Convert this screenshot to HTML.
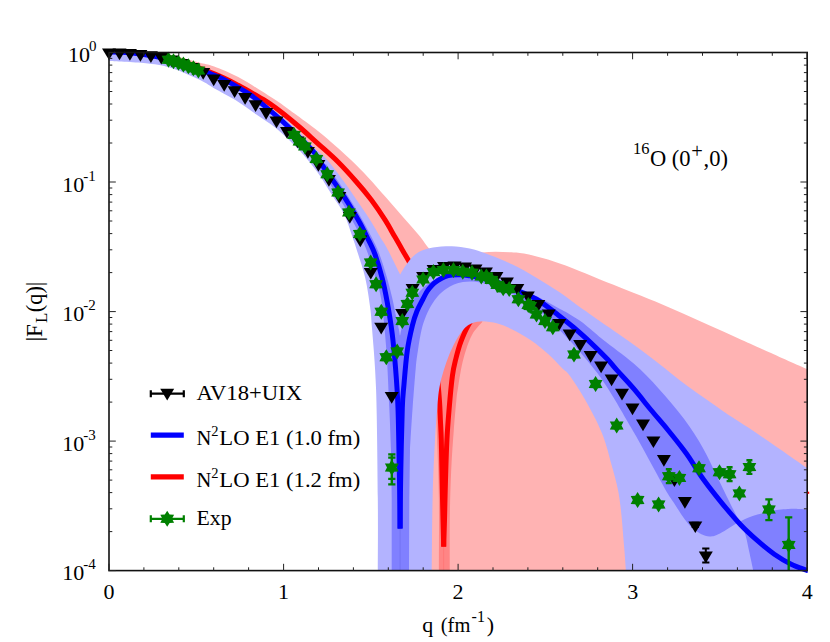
<!DOCTYPE html>
<html><head><meta charset="utf-8"><title>chart</title>
<style>html,body{margin:0;padding:0;background:#fff}svg{display:block}</style></head>
<body>
<svg width="830" height="642" viewBox="0 0 830 642">
<defs><clipPath id="ax"><rect x="109.0" y="52.5" width="698.2" height="518.1"/></clipPath>
<clipPath id="ax2"><rect x="106.0" y="49.5" width="701.6" height="523.5"/></clipPath></defs>
<rect width="830" height="642" fill="#fff"/>
<g clip-path="url(#ax)">
<path d="M109.0 50.0C114.8 50.3 134.6 51.2 143.9 52.0C153.2 52.8 159.2 53.7 165.0 54.5C170.8 55.3 174.6 56.1 178.8 57.0C183.0 57.9 186.5 59.0 190.0 60.0C193.5 61.0 196.0 61.6 200.0 62.7C204.0 63.8 207.7 64.1 214.1 66.5C220.5 68.9 230.2 72.9 238.2 77.1C246.2 81.3 254.8 86.9 262.3 91.6C269.8 96.3 278.1 101.8 283.4 105.4C288.7 109.0 288.3 109.0 294.1 113.3C299.9 117.6 311.4 125.9 318.2 131.3C325.0 136.7 329.5 140.7 335.0 145.5C340.5 150.3 345.8 155.0 351.3 160.3C356.8 165.6 362.4 171.2 368.2 177.5C374.0 183.8 380.3 191.0 386.3 197.8C392.3 204.6 398.7 212.1 404.3 218.5C409.9 224.9 415.9 231.5 420.0 236.5C424.1 241.5 425.9 245.4 429.2 248.7C432.5 251.9 435.7 254.8 440.0 256.0C444.3 257.2 450.0 256.4 455.0 256.0C460.0 255.6 465.5 254.1 470.0 253.5C474.5 252.9 477.9 252.7 482.2 252.4C486.5 252.1 491.1 251.7 495.7 251.7C500.3 251.7 505.3 252.0 510.0 252.3C514.7 252.6 517.7 252.4 524.0 253.6C530.3 254.8 540.0 257.2 548.0 259.6C556.0 262.0 563.3 264.8 572.0 268.1C580.7 271.4 590.8 275.8 600.0 279.5C609.2 283.2 617.8 286.5 627.0 290.2C636.2 293.9 646.1 297.7 655.4 301.6C664.7 305.5 673.8 309.5 683.0 313.6C692.2 317.7 701.6 321.9 710.8 326.0C720.0 330.1 728.8 334.1 738.0 338.3C747.2 342.5 754.8 345.9 766.3 351.0C777.8 356.1 800.4 366.2 807.2 369.2L807.2 570.4L400 570.4L400.1 528.6C400.0 518.8 399.7 490.1 399.3 470.0C398.9 449.9 398.6 425.1 398.0 408.0C397.4 390.9 396.5 379.9 395.5 367.5C394.5 355.1 393.6 344.8 392.2 333.7C390.8 322.6 388.7 310.2 387.0 301.0C385.3 291.8 384.2 286.0 382.2 278.2C380.2 270.4 377.4 261.0 374.9 254.1C372.4 247.2 369.5 242.2 367.0 237.0C364.5 231.8 362.4 227.5 359.8 222.7C357.2 217.9 354.9 214.0 351.3 208.2C347.7 202.4 342.7 194.5 338.1 187.7C333.5 180.9 327.5 173.0 323.6 167.2C319.7 161.4 318.5 157.9 314.6 153.0C310.7 148.1 305.4 143.4 300.0 138.0C294.6 132.6 288.3 126.5 282.0 120.8C275.7 115.1 267.9 108.6 262.3 104.1C256.7 99.6 254.6 97.6 248.6 93.7C242.6 89.8 231.9 83.7 226.1 80.6C220.3 77.5 218.7 77.1 213.7 75.0C208.7 72.9 202.1 70.0 196.2 67.8C190.4 65.6 184.6 63.8 178.8 62.1C173.0 60.4 167.2 58.9 161.3 57.6C155.5 56.3 149.7 55.3 143.9 54.5C138.1 53.7 132.3 53.0 126.5 52.6C120.6 52.2 111.9 52.1 109.0 52.0Z" fill="#ffb3b3"/>
<path d="M482.6 321.6C480.9 323.7 475.3 329.3 472.5 334.0C469.7 338.7 467.8 344.5 466.0 350.0C464.2 355.5 462.8 360.7 461.5 367.0C460.2 373.3 458.9 382.5 458.0 388.0C457.1 393.5 457.1 393.0 456.4 400.0C455.7 407.0 454.7 418.3 453.8 430.0C452.9 441.7 451.9 455.0 451.2 470.0C450.5 485.0 450.0 503.3 449.8 520.0C449.6 536.7 449.8 562.0 449.8 570.4L438.9 570.4C438.9 558.7 439.1 520.1 438.9 500.0C438.7 479.9 438.0 465.0 437.5 450.0C437.0 435.0 436.4 418.3 436.0 410.0C435.6 401.7 435.0 408.3 435.0 400.0C435.0 391.7 434.3 371.7 436.0 360.0C437.7 348.3 441.0 337.5 445.0 330.0C449.0 322.5 457.5 317.5 460.0 315.0Z" fill="#ff8585"/>
<path d="M443.6 546 L443.6 570.4" stroke="#f77" stroke-width="0.9"/>
</g>
<g clip-path="url(#ax2)">
<path d="M109.0 52.0C114.8 52.4 132.3 52.8 143.9 54.4C155.5 56.0 167.2 58.3 178.8 61.5C190.4 64.7 203.8 69.6 213.7 73.6C223.6 77.5 230.1 81.0 238.2 85.2C246.3 89.4 257.0 95.9 262.3 99.0C267.6 102.1 266.5 101.3 270.0 103.8C273.5 106.2 278.4 109.8 283.4 113.7C288.4 117.7 294.2 122.5 300.0 127.5C305.8 132.5 311.8 138.1 318.2 143.8C324.6 149.6 331.8 155.7 338.1 162.0C344.4 168.3 350.6 175.2 356.1 181.5C361.7 187.8 366.5 193.6 371.4 200.0C376.2 206.4 381.3 214.0 385.2 220.2C389.1 226.4 391.9 231.8 395.0 237.1C398.1 242.4 400.9 247.4 403.5 252.0C406.1 256.6 408.1 258.7 410.5 264.5C412.9 270.3 415.2 278.1 418.0 287.0C420.8 295.9 424.4 307.5 427.0 318.0C429.6 328.5 431.8 339.8 433.5 350.0C435.2 360.2 436.5 370.7 437.5 379.0C438.5 387.3 438.9 393.2 439.4 400.0C439.9 406.8 440.1 413.3 440.4 420.0C440.7 426.7 441.0 430.0 441.3 440.0C441.6 450.0 441.8 466.7 442.1 480.0C442.4 493.3 442.7 508.9 443.0 520.0C443.3 531.1 443.6 542.2 443.7 546.6" fill="none" stroke="#f00" stroke-width="5" stroke-linejoin="round"/>
<path d="M443.7 546.6C443.8 542.2 444.2 531.1 444.5 520.0C444.8 508.9 445.1 493.3 445.5 480.0C445.9 466.7 446.3 452.0 446.9 440.0C447.5 428.0 448.3 418.7 449.2 408.0C450.1 397.3 451.3 384.1 452.4 375.9C453.5 367.7 454.4 364.6 455.8 359.0C457.2 353.4 458.6 347.8 460.7 342.2C462.8 336.6 465.4 330.3 468.3 325.3C471.2 320.3 474.1 315.7 478.0 312.0C481.9 308.3 489.7 304.5 492.0 303.0" fill="none" stroke="#f00" stroke-width="5" stroke-linejoin="round"/>
</g>
<g clip-path="url(#ax)">
<path d="M109.0 50.0C114.8 50.6 132.3 51.7 143.9 53.5C155.5 55.3 167.2 57.6 178.8 61.0C190.4 64.4 202.1 68.8 213.7 74.0C225.3 79.2 240.5 87.8 248.6 92.5C256.7 97.2 256.6 98.3 262.3 102.5C268.0 106.7 276.7 112.4 283.0 117.5C289.3 122.6 294.8 128.0 300.0 133.0C305.2 138.0 309.5 143.0 314.0 147.5C318.5 152.0 322.2 154.3 327.2 160.0C332.2 165.7 338.7 174.3 344.1 181.7C349.5 189.1 355.2 197.8 359.8 204.6C364.4 211.4 368.4 217.3 371.8 222.7C375.2 228.1 377.5 232.5 380.2 237.1C382.9 241.7 384.9 244.2 388.2 250.5C391.5 256.8 398.2 270.6 400.2 274.6L400.2 274.6C400.8 273.5 402.8 269.9 404.0 268.0C405.2 266.1 406.3 264.6 407.5 263.0C408.7 261.4 409.6 260.0 411.0 258.5C412.4 257.0 414.1 255.3 415.9 254.0C417.7 252.7 419.8 251.4 422.0 250.5C424.2 249.6 426.8 248.9 429.3 248.3C431.8 247.7 434.2 247.3 437.0 247.0C439.8 246.7 442.8 246.3 446.0 246.2C449.2 246.1 452.8 246.3 456.0 246.6C459.2 246.9 462.3 247.3 465.3 247.8C468.3 248.3 471.2 248.8 474.0 249.6C476.8 250.3 479.4 251.3 482.2 252.3C485.0 253.3 488.0 254.4 491.0 255.5C494.0 256.6 496.5 257.5 500.0 259.0C503.5 260.5 508.0 262.4 512.0 264.3C516.0 266.2 520.1 268.3 524.1 270.5C528.1 272.7 532.0 275.1 536.0 277.5C540.0 279.9 544.2 282.4 548.2 284.9C552.2 287.4 556.0 289.8 560.0 292.5C564.0 295.2 568.0 298.3 572.3 301.4C576.6 304.5 581.4 308.0 586.0 311.3C590.6 314.6 594.3 317.4 600.0 321.3C605.7 325.2 613.3 330.3 620.0 335.0C626.7 339.7 633.3 344.4 640.0 349.3C646.7 354.2 653.3 359.3 660.0 364.5C666.7 369.7 674.2 376.0 680.0 380.5C685.8 385.0 689.9 387.8 695.0 391.5C700.1 395.2 705.8 399.0 710.8 402.5C715.8 406.0 720.1 409.2 725.0 412.5C729.9 415.8 734.6 418.8 740.0 422.3C745.4 425.8 750.8 429.2 757.5 433.7C764.2 438.2 771.7 443.5 780.0 449.3C788.3 455.1 802.7 465.1 807.2 468.3L807.2 570.4L625.9 570.4C625.6 566.6 625.0 557.0 624.2 547.5C623.4 538.0 622.3 523.3 621.3 513.7C620.3 504.1 619.5 497.7 618.0 490.0C616.5 482.3 614.9 476.9 612.3 467.5C609.7 458.1 606.7 444.9 602.2 433.7C597.7 422.4 590.7 409.6 585.3 400.0C579.9 390.4 573.9 381.2 570.0 375.9C566.1 370.6 565.6 371.6 562.0 368.0C558.4 364.4 553.2 358.6 548.1 354.0C543.0 349.4 536.8 344.4 531.2 340.5C525.6 336.6 519.9 333.2 514.3 330.4C508.7 327.6 503.1 325.1 497.5 323.6C491.9 322.1 485.5 321.1 480.6 321.4C475.7 321.7 471.8 322.7 468.0 325.3C464.2 327.9 461.1 332.2 458.0 337.0C454.9 341.8 451.9 348.4 449.5 354.0C447.1 359.6 445.3 365.2 443.6 370.8C441.9 376.4 440.4 381.5 439.4 387.7C438.3 393.9 438.0 399.3 437.3 408.0C436.6 416.7 435.8 425.0 435.0 440.0C434.2 455.0 433.1 476.3 432.6 498.0C432.1 519.7 431.9 558.3 431.8 570.4L377.8 570.4C377.8 558.3 378.1 528.1 377.8 498.0C377.5 467.9 377.1 418.3 376.1 390.0C375.1 361.7 373.0 341.8 372.0 328.0C371.0 314.2 371.2 315.3 370.1 307.0C369.0 298.7 367.3 287.0 365.3 278.2C363.3 269.4 360.2 261.0 358.1 254.1C356.0 247.2 354.8 243.7 352.5 237.0C350.2 230.3 347.5 221.2 344.1 214.2C340.7 207.2 336.4 201.9 332.0 195.0C327.6 188.1 323.3 180.3 318.0 173.0C312.7 165.7 306.8 158.3 300.0 151.0C293.2 143.7 284.3 135.1 277.0 129.0C269.7 122.9 263.0 119.2 256.0 114.3C249.0 109.4 242.0 104.1 235.0 99.8C228.0 95.5 219.7 91.4 214.0 88.2C208.3 85.0 208.0 83.8 201.0 80.5C194.0 77.2 180.8 71.1 172.0 68.3C163.2 65.5 158.5 64.7 148.0 63.5C137.5 62.3 115.5 61.4 109.0 61.0Z" fill="#b3b3ff"/>
<path d="M326.0 164.0C328.3 167.3 335.4 177.2 340.0 184.0C344.6 190.8 349.7 198.8 353.5 205.0C357.3 211.2 360.1 215.8 363.0 221.0C365.9 226.2 368.3 230.7 371.0 236.0C373.7 241.3 376.4 246.3 379.0 253.0C381.6 259.7 384.3 268.7 386.5 276.0C388.7 283.3 390.4 290.3 392.0 297.0C393.6 303.7 394.8 310.5 396.0 316.0C397.2 321.5 398.3 326.8 399.0 330.0C399.7 333.2 399.6 335.4 400.0 335.4C400.4 335.4 400.4 332.9 401.2 330.0C401.9 327.1 403.1 322.0 404.5 318.0C405.9 314.0 407.6 309.7 409.5 306.0C411.4 302.3 413.6 299.2 416.0 296.0C418.4 292.8 421.0 289.7 424.0 287.0C427.0 284.3 430.6 281.8 434.0 280.0C437.4 278.2 440.1 276.9 444.6 276.0C449.1 275.1 455.1 274.6 461.0 274.8C466.9 275.1 473.5 276.1 480.0 277.5C486.5 278.9 493.3 281.0 500.0 283.0C506.7 285.0 515.0 287.8 520.0 289.5C525.0 291.2 526.7 292.1 530.0 293.5C533.3 294.9 537.0 296.5 540.0 298.0C543.0 299.5 545.0 300.7 548.3 302.5C551.6 304.3 556.8 307.2 560.0 309.0C563.2 310.8 564.3 311.0 567.6 313.0C570.9 315.0 576.1 318.1 580.0 320.8C583.9 323.6 587.1 326.3 591.0 329.5C594.9 332.7 596.3 334.3 603.4 340.0C610.5 345.7 624.4 355.5 633.7 363.6C643.0 371.8 650.6 379.6 659.0 388.9C667.4 398.2 677.0 409.4 684.3 419.3C691.6 429.2 697.2 437.9 702.9 448.0C708.6 458.1 713.5 469.5 718.7 480.0C723.9 490.5 729.8 502.6 734.0 511.0C738.2 519.4 741.5 524.0 744.0 530.6C746.5 537.2 747.5 544.2 749.0 550.8C750.5 557.4 752.5 567.1 753.2 570.4L753.2 570.4L807.2 570.4L807.2 509.5L807.2 509.5C805.8 509.4 801.7 509.0 799.0 508.9C796.3 508.8 795.3 508.6 791.2 508.8C787.1 509.1 779.9 509.4 774.3 510.4C768.7 511.4 763.1 512.8 757.5 514.6C751.9 516.4 746.9 518.1 740.6 521.3C734.4 524.4 725.1 531.0 720.0 533.5C714.9 536.0 713.0 536.4 709.9 536.5C706.8 536.6 703.9 535.3 701.4 534.2C698.9 533.1 697.2 531.8 695.0 530.0C692.8 528.2 690.3 526.2 688.0 523.5C685.7 520.8 683.3 517.4 681.0 514.0C678.7 510.6 676.2 506.3 674.0 503.0C671.8 499.7 670.1 497.4 668.0 494.0C665.9 490.6 664.0 487.0 661.5 482.5C659.0 478.0 655.9 472.2 653.0 467.0C650.1 461.8 647.1 456.2 644.3 451.0C641.5 445.8 638.8 440.9 636.0 436.0C633.2 431.1 631.1 427.8 627.5 421.5C623.9 415.2 617.9 404.8 614.1 398.5C610.4 392.2 607.9 388.4 605.0 384.0C602.1 379.6 600.7 377.3 596.7 372.2C592.8 367.1 585.9 358.9 581.3 353.5C576.7 348.1 573.6 344.7 569.2 340.0C564.8 335.3 559.9 330.2 555.0 325.5C550.1 320.8 545.8 316.1 540.0 311.5C534.2 306.9 526.7 301.8 520.0 298.0C513.3 294.2 505.8 290.9 500.0 288.5C494.2 286.1 489.5 284.7 485.0 283.5C480.5 282.3 476.7 281.8 473.0 281.5C469.3 281.2 466.2 281.5 463.0 282.0C459.8 282.5 456.8 283.3 454.0 284.5C451.2 285.7 448.7 287.1 446.0 289.0C443.3 290.9 440.4 293.3 438.0 296.0C435.6 298.7 433.5 301.7 431.5 305.0C429.5 308.3 427.7 311.8 426.0 316.0C424.3 320.2 422.8 324.3 421.5 330.0C420.2 335.7 418.9 343.8 418.0 350.0C417.1 356.2 416.7 357.8 415.8 367.5C414.9 377.2 413.6 394.2 412.6 408.0C411.6 421.8 410.4 443.0 410.0 450.0L409.3 498.0L409.0 570.4L391.7 570.4L391.7 498.0L391.0 450.0C390.7 443.0 390.1 424.6 389.3 408.0C388.5 391.4 387.7 368.6 386.4 350.6C385.1 332.6 383.2 312.4 381.3 300.0C379.4 287.6 377.3 283.8 375.0 276.0C372.7 268.2 370.1 259.7 367.7 253.0C365.3 246.3 362.9 241.3 360.4 236.0C357.9 230.7 355.4 226.2 352.6 221.0C349.8 215.8 347.3 211.2 343.5 205.0C339.7 198.8 334.2 190.5 330.0 184.0C325.8 177.5 320.0 169.0 318.0 166.0Z" fill="#8080ff"/>
<path d="M400.1 528 L400.1 570.4" stroke="#7272f2" stroke-width="0.9"/>
</g>
<g clip-path="url(#ax2)">
<path d="M109.0 52.0C111.9 52.1 120.6 52.2 126.5 52.6C132.3 53.0 138.1 53.7 143.9 54.5C149.7 55.3 155.5 56.3 161.3 57.6C167.2 58.9 173.0 60.4 178.8 62.1C184.6 63.8 190.4 65.6 196.2 67.8C202.1 70.0 208.7 72.9 213.7 75.0C218.7 77.1 220.3 77.5 226.1 80.6C231.9 83.7 242.6 89.8 248.6 93.7C254.6 97.6 256.7 99.6 262.3 104.1C267.9 108.6 275.7 115.1 282.0 120.8C288.3 126.5 294.6 132.6 300.0 138.0C305.4 143.4 310.7 148.1 314.6 153.0C318.5 157.9 319.7 161.4 323.6 167.2C327.5 173.0 333.5 180.9 338.1 187.7C342.7 194.5 347.7 202.4 351.3 208.2C354.9 214.0 357.2 217.9 359.8 222.7C362.4 227.5 364.5 231.8 367.0 237.0C369.5 242.2 372.4 247.2 374.9 254.1C377.4 261.0 380.2 270.4 382.2 278.2C384.2 286.0 385.3 291.8 387.0 301.0C388.7 310.2 390.8 322.6 392.2 333.7C393.6 344.8 394.5 355.1 395.5 367.5C396.5 379.9 397.4 390.9 398.0 408.0C398.6 425.1 398.9 449.9 399.3 470.0C399.7 490.1 400.0 518.8 400.1 528.6" fill="none" stroke="#00f" stroke-width="5" stroke-linejoin="round"/>
<path d="M400.1 528.6C400.2 518.8 400.4 490.1 400.8 470.0C401.2 449.9 401.8 422.3 402.3 408.0C402.8 393.7 403.2 393.9 404.0 384.3C404.8 374.7 405.9 360.4 407.3 350.6C408.7 340.8 410.8 331.9 412.4 325.3C414.0 318.7 415.3 315.2 417.0 311.0C418.7 306.8 420.8 303.2 422.5 300.0C424.2 296.8 425.4 294.0 427.0 291.5C428.6 289.0 430.2 287.1 432.0 285.2C433.8 283.3 435.8 281.7 438.0 280.3C440.2 278.9 442.7 277.5 445.0 276.6C447.3 275.7 449.3 275.3 452.0 275.0C454.7 274.7 458.0 274.7 461.0 274.8C464.0 274.9 466.8 275.4 470.0 275.8C473.2 276.2 476.7 276.8 480.0 277.5C483.3 278.2 486.7 279.1 490.0 280.0C493.3 280.9 496.7 281.8 500.0 283.0C503.3 284.2 506.7 285.6 510.0 287.0C513.3 288.4 516.7 290.0 520.0 291.5C523.3 293.0 526.7 294.4 530.0 296.0C533.3 297.6 535.5 298.3 540.0 301.3C544.5 304.3 551.3 309.6 556.9 314.0C562.5 318.4 568.1 322.7 573.7 327.5C579.3 332.3 585.0 337.3 590.6 342.6C596.2 347.9 603.1 354.7 607.5 359.3C611.9 363.9 612.5 365.3 616.9 370.2C621.3 375.1 628.1 382.1 633.7 388.7C639.3 395.2 645.0 402.7 650.6 409.5C656.2 416.3 662.2 423.0 667.5 429.5C672.8 436.0 678.9 443.6 682.6 448.5C686.4 453.4 686.5 453.6 690.0 458.8C693.5 464.0 697.9 471.8 703.5 479.5C709.1 487.2 717.5 497.8 723.7 505.3C729.9 512.8 735.0 518.8 740.6 524.7C746.2 530.6 751.9 535.8 757.5 540.7C763.1 545.6 768.7 550.3 774.3 554.2C779.9 558.1 785.7 561.5 791.2 564.2C796.7 566.9 803.7 569.0 807.2 570.4C810.7 571.8 811.2 572.0 812.0 572.3" fill="none" stroke="#00f" stroke-width="5" stroke-linejoin="round"/>
</g>
<g fill="#000">
<path d="M102.0 48.4 L116.0 48.4 L109.0 60.1 Z"/>
<path d="M112.5 48.5 L126.5 48.5 L119.5 60.2 Z"/>
<path d="M122.9 49.1 L136.9 49.1 L129.9 60.8 Z"/>
<path d="M133.4 50.1 L147.4 50.1 L140.4 61.8 Z"/>
<path d="M143.9 51.3 L157.9 51.3 L150.9 63.0 Z"/>
<path d="M154.3 52.9 L168.3 52.9 L161.3 64.6 Z"/>
<path d="M164.8 55.6 L178.8 55.6 L171.8 67.3 Z"/>
<path d="M175.3 58.9 L189.3 58.9 L182.3 70.6 Z"/>
<path d="M185.8 63.1 L199.8 63.1 L192.8 74.8 Z"/>
<path d="M196.2 68.1 L210.2 68.1 L203.2 79.8 Z"/>
<path d="M206.7 74.6 L220.7 74.6 L213.7 86.3 Z"/>
<path d="M217.2 80.1 L231.2 80.1 L224.2 91.8 Z"/>
<path d="M227.6 86.3 L241.6 86.3 L234.6 98.0 Z"/>
<path d="M238.1 93.1 L252.1 93.1 L245.1 104.8 Z"/>
<path d="M248.6 100.3 L262.6 100.3 L255.6 112.0 Z"/>
<path d="M259.1 108.1 L273.1 108.1 L266.1 119.8 Z"/>
<path d="M269.5 116.5 L283.5 116.5 L276.5 128.2 Z"/>
<path d="M280.0 127.1 L294.0 127.1 L287.0 138.8 Z"/>
<path d="M290.5 136.6 L304.5 136.6 L297.5 148.3 Z"/>
<path d="M300.9 147.1 L314.9 147.1 L307.9 158.8 Z"/>
<path d="M311.4 160.1 L325.4 160.1 L318.4 171.8 Z"/>
<path d="M321.9 175.1 L335.9 175.1 L328.9 186.8 Z"/>
<path d="M332.3 192.1 L346.3 192.1 L339.3 203.8 Z"/>
<path d="M342.8 212.1 L356.8 212.1 L349.8 223.8 Z"/>
<path d="M353.3 235.6 L367.3 235.6 L360.3 247.3 Z"/>
<path d="M363.8 267.9 L377.8 267.9 L370.8 279.6 Z"/>
<path d="M374.2 322.7 L388.2 322.7 L381.2 334.4 Z"/>
<path d="M384.7 392.1 L398.7 392.1 L391.7 403.8 Z"/>
<path d="M395.2 309.1 L409.2 309.1 L402.2 320.8 Z"/>
<path d="M405.6 284.1 L419.6 284.1 L412.6 295.8 Z"/>
<path d="M416.1 272.1 L430.1 272.1 L423.1 283.8 Z"/>
<path d="M426.6 265.1 L440.6 265.1 L433.6 276.8 Z"/>
<path d="M437.0 262.1 L451.0 262.1 L444.0 273.8 Z"/>
<path d="M447.5 261.6 L461.5 261.6 L454.5 273.3 Z"/>
<path d="M458.0 262.6 L472.0 262.6 L465.0 274.3 Z"/>
<path d="M468.5 264.6 L482.5 264.6 L475.5 276.3 Z"/>
<path d="M478.9 267.6 L492.9 267.6 L485.9 279.3 Z"/>
<path d="M489.4 272.1 L503.4 272.1 L496.4 283.8 Z"/>
<path d="M499.9 277.6 L513.9 277.6 L506.9 289.3 Z"/>
<path d="M510.3 284.1 L524.3 284.1 L517.3 295.8 Z"/>
<path d="M520.8 291.6 L534.8 291.6 L527.8 303.3 Z"/>
<path d="M531.3 300.1 L545.3 300.1 L538.3 311.8 Z"/>
<path d="M541.7 309.6 L555.7 309.6 L548.7 321.3 Z"/>
<path d="M552.2 319.1 L566.2 319.1 L559.2 330.8 Z"/>
<path d="M562.7 329.6 L576.7 329.6 L569.7 341.3 Z"/>
<path d="M573.2 340.1 L587.2 340.1 L580.2 351.8 Z"/>
<path d="M583.6 351.1 L597.6 351.1 L590.6 362.8 Z"/>
<path d="M594.1 361.6 L608.1 361.6 L601.1 373.3 Z"/>
<path d="M604.6 374.6 L618.6 374.6 L611.6 386.3 Z"/>
<path d="M615.0 388.8 L629.0 388.8 L622.0 400.5 Z"/>
<path d="M625.5 403.5 L639.5 403.5 L632.5 415.2 Z"/>
<path d="M636.0 419.6 L650.0 419.6 L643.0 431.3 Z"/>
<path d="M646.4 436.4 L660.4 436.4 L653.4 448.1 Z"/>
<path d="M656.9 455.1 L670.9 455.1 L663.9 466.8 Z"/>
<path d="M667.4 475.4 L681.4 475.4 L674.4 487.1 Z"/>
<path d="M677.9 497.1 L691.9 497.1 L684.9 508.8 Z"/>
<path d="M688.3 521.4 L702.3 521.4 L695.3 533.1 Z"/>
<path d="M698.8 551.5 L712.8 551.5 L705.8 563.2 Z"/>
</g>
<g stroke="#000" stroke-width="2" fill="none">
<path d="M705.8 548.6 V562.4 M702.2 548.6 H709.4 M702.2 562.4 H709.4"/>
<path d="M695.3 522.8 V527.0 M691.7 522.8 H698.9 M691.7 527.0 H698.9"/>
</g>
<g clip-path="url(#ax2)"><g stroke="#008000" stroke-width="2.4" fill="none">
<path d="M668.8 469.3 V483.1M665.8 469.3 H671.8M665.8 483.1 H671.8"/>
<path d="M729.6 467.3 V481.1M726.6 467.3 H732.6M726.6 481.1 H732.6"/>
<path d="M391.8 454.4 V484.4M388.2 454.4 H395.4M388.2 457.6 H395.4M388.2 478.9 H395.4M388.2 484.4 H395.4"/>
<path d="M749.4 460.3 V473.9M746.4 460.3 H752.4M746.4 473.9 H752.4"/>
<path d="M768.9 499.4 V520.1M765.3 499.4 H772.5M765.3 520.1 H772.5"/>
<path d="M788.7 517.4 V570.6M785.1 517.4 H792.3"/>
</g></g>
<g fill="#008000">
<path d="M168.5 51.7L170.9 55.5L175.4 55.7L173.3 59.7L175.4 63.7L170.9 63.9L168.5 67.7L166.1 63.9L161.6 63.7L163.7 59.7L161.6 55.7L166.1 55.5Z"/>
<path d="M173.5 53.2L175.9 57.0L180.4 57.2L178.3 61.2L180.4 65.2L175.9 65.4L173.5 69.2L171.1 65.4L166.6 65.2L168.7 61.2L166.6 57.2L171.1 57.0Z"/>
<path d="M178.5 54.8L180.9 58.6L185.4 58.8L183.3 62.8L185.4 66.8L180.9 67.0L178.5 70.8L176.1 67.0L171.6 66.8L173.7 62.8L171.6 58.8L176.1 58.6Z"/>
<path d="M183.4 56.5L185.8 60.3L190.3 60.5L188.2 64.5L190.3 68.5L185.8 68.7L183.4 72.5L181.0 68.7L176.5 68.5L178.6 64.5L176.5 60.5L181.0 60.3Z"/>
<path d="M188.4 58.3L190.8 62.1L195.3 62.3L193.2 66.3L195.3 70.3L190.8 70.5L188.4 74.3L186.0 70.5L181.5 70.3L183.6 66.3L181.5 62.3L186.0 62.1Z"/>
<path d="M193.4 60.2L195.8 64.0L200.3 64.2L198.2 68.2L200.3 72.2L195.8 72.4L193.4 76.2L191.0 72.4L186.5 72.2L188.6 68.2L186.5 64.2L191.0 64.0Z"/>
<path d="M198.4 62.6L200.8 66.4L205.3 66.6L203.2 70.6L205.3 74.6L200.8 74.8L198.4 78.6L196.0 74.8L191.5 74.6L193.6 70.6L191.5 66.6L196.0 66.4Z"/>
<path d="M294.1 126.9L296.5 130.7L301.0 130.9L298.9 134.9L301.0 138.9L296.5 139.1L294.1 142.9L291.7 139.1L287.2 138.9L289.3 134.9L287.2 130.9L291.7 130.7Z"/>
<path d="M299.5 133.6L301.9 137.4L306.4 137.6L304.3 141.6L306.4 145.6L301.9 145.8L299.5 149.6L297.1 145.8L292.6 145.6L294.7 141.6L292.6 137.6L297.1 137.4Z"/>
<path d="M304.9 138.4L307.3 142.2L311.8 142.4L309.7 146.4L311.8 150.4L307.3 150.6L304.9 154.4L302.5 150.6L298.0 150.4L300.1 146.4L298.0 142.4L302.5 142.2Z"/>
<path d="M316.4 151.0L318.8 154.8L323.3 155.0L321.2 159.0L323.3 163.0L318.8 163.2L316.4 167.0L314.0 163.2L309.5 163.0L311.6 159.0L309.5 155.0L314.0 154.8Z"/>
<path d="M327.2 166.3L329.6 170.1L334.1 170.3L332.0 174.3L334.1 178.3L329.6 178.5L327.2 182.3L324.8 178.5L320.3 178.3L322.4 174.3L320.3 170.3L324.8 170.1Z"/>
<path d="M338.1 184.5L340.5 188.3L345.0 188.5L342.9 192.5L345.0 196.5L340.5 196.7L338.1 200.5L335.7 196.7L331.2 196.5L333.3 192.5L331.2 188.5L335.7 188.3Z"/>
<path d="M348.9 204.4L351.3 208.2L355.8 208.4L353.7 212.4L355.8 216.4L351.3 216.6L348.9 220.4L346.5 216.6L342.0 216.4L344.1 212.4L342.0 208.4L346.5 208.2Z"/>
<path d="M359.8 226.0L362.2 229.8L366.7 230.0L364.6 234.0L366.7 238.0L362.2 238.2L359.8 242.0L357.4 238.2L352.9 238.0L355.0 234.0L352.9 230.0L357.4 229.8Z"/>
<path d="M370.7 254.5L373.1 258.3L377.6 258.5L375.5 262.5L377.6 266.5L373.1 266.7L370.7 270.5L368.3 266.7L363.8 266.5L365.9 262.5L363.8 258.5L368.3 258.3Z"/>
<path d="M376.1 276.2L378.5 280.0L383.0 280.2L380.9 284.2L383.0 288.2L378.5 288.4L376.1 292.2L373.7 288.4L369.2 288.2L371.3 284.2L369.2 280.2L373.7 280.0Z"/>
<path d="M381.3 303.8L383.7 307.6L388.2 307.8L386.1 311.8L388.2 315.8L383.7 316.0L381.3 319.8L378.9 316.0L374.4 315.8L376.5 311.8L374.4 307.8L378.9 307.6Z"/>
<path d="M386.3 349.3L388.7 353.1L393.2 353.3L391.1 357.3L393.2 361.3L388.7 361.5L386.3 365.3L383.9 361.5L379.4 361.3L381.5 357.3L379.4 353.3L383.9 353.1Z"/>
<path d="M391.8 459.6L394.2 463.4L398.7 463.6L396.6 467.6L398.7 471.6L394.2 471.8L391.8 475.6L389.4 471.8L384.9 471.6L387.0 467.6L384.9 463.6L389.4 463.4Z"/>
<path d="M397.2 343.4L399.6 347.2L404.1 347.4L402.0 351.4L404.1 355.4L399.6 355.6L397.2 359.4L394.8 355.6L390.3 355.4L392.4 351.4L390.3 347.4L394.8 347.2Z"/>
<path d="M402.3 313.1L404.7 316.9L409.2 317.1L407.1 321.1L409.2 325.1L404.7 325.3L402.3 329.1L399.9 325.3L395.4 325.1L397.5 321.1L395.4 317.1L399.9 316.9Z"/>
<path d="M407.4 296.0L409.8 299.8L414.3 300.0L412.2 304.0L414.3 308.0L409.8 308.2L407.4 312.0L405.0 308.2L400.5 308.0L402.6 304.0L400.5 300.0L405.0 299.8Z"/>
<path d="M412.3 284.7L414.7 288.5L419.2 288.7L417.1 292.7L419.2 296.7L414.7 296.9L412.3 300.7L409.9 296.9L405.4 296.7L407.5 292.7L405.4 288.7L409.9 288.5Z"/>
<path d="M423.1 271.4L425.5 275.2L430.0 275.4L427.9 279.4L430.0 283.4L425.5 283.6L423.1 287.4L420.7 283.6L416.2 283.4L418.3 279.4L416.2 275.4L420.7 275.2Z"/>
<path d="M433.4 264.0L435.8 267.8L440.3 268.0L438.2 272.0L440.3 276.0L435.8 276.2L433.4 280.0L431.0 276.2L426.5 276.0L428.6 272.0L426.5 268.0L431.0 267.8Z"/>
<path d="M443.4 262.1L445.8 265.9L450.3 266.1L448.2 270.1L450.3 274.1L445.8 274.3L443.4 278.1L441.0 274.3L436.5 274.1L438.6 270.1L436.5 266.1L441.0 265.9Z"/>
<path d="M453.5 262.1L455.9 265.9L460.4 266.1L458.3 270.1L460.4 274.1L455.9 274.3L453.5 278.1L451.1 274.3L446.6 274.1L448.7 270.1L446.6 266.1L451.1 265.9Z"/>
<path d="M462.8 263.8L465.2 267.6L469.7 267.8L467.6 271.8L469.7 275.8L465.2 276.0L462.8 279.8L460.4 276.0L455.9 275.8L458.0 271.8L455.9 267.8L460.4 267.6Z"/>
<path d="M472.0 264.7L474.4 268.5L478.9 268.7L476.8 272.7L478.9 276.7L474.4 276.9L472.0 280.7L469.6 276.9L465.1 276.7L467.2 272.7L465.1 268.7L469.6 268.5Z"/>
<path d="M481.3 268.5L483.7 272.3L488.2 272.5L486.1 276.5L488.2 280.5L483.7 280.7L481.3 284.5L478.9 280.7L474.4 280.5L476.5 276.5L474.4 272.5L478.9 272.3Z"/>
<path d="M486.4 268.5L488.8 272.3L493.3 272.5L491.2 276.5L493.3 280.5L488.8 280.7L486.4 284.5L484.0 280.7L479.5 280.5L481.6 276.5L479.5 272.5L484.0 272.3Z"/>
<path d="M491.4 271.9L493.8 275.7L498.3 275.9L496.2 279.9L498.3 283.9L493.8 284.1L491.4 287.9L489.0 284.1L484.5 283.9L486.6 279.9L484.5 275.9L489.0 275.7Z"/>
<path d="M497.3 276.9L499.7 280.7L504.2 280.9L502.1 284.9L504.2 288.9L499.7 289.1L497.3 292.9L494.9 289.1L490.4 288.9L492.5 284.9L490.4 280.9L494.9 280.7Z"/>
<path d="M503.2 280.3L505.6 284.1L510.1 284.3L508.0 288.3L510.1 292.3L505.6 292.5L503.2 296.3L500.8 292.5L496.3 292.3L498.4 288.3L496.3 284.3L500.8 284.1Z"/>
<path d="M509.2 281.0L511.6 284.8L516.1 285.0L514.0 289.0L516.1 293.0L511.6 293.2L509.2 297.0L506.8 293.2L502.3 293.0L504.4 289.0L502.3 285.0L506.8 284.8Z"/>
<path d="M518.4 291.3L520.8 295.1L525.3 295.3L523.2 299.3L525.3 303.3L520.8 303.5L518.4 307.3L516.0 303.5L511.5 303.3L513.6 299.3L511.5 295.3L516.0 295.1Z"/>
<path d="M528.3 297.0L530.7 300.8L535.2 301.0L533.1 305.0L535.2 309.0L530.7 309.2L528.3 313.0L525.9 309.2L521.4 309.0L523.5 305.0L521.4 301.0L525.9 300.8Z"/>
<path d="M530.2 298.0L532.6 301.8L537.1 302.0L535.0 306.0L537.1 310.0L532.6 310.2L530.2 314.0L527.8 310.2L523.3 310.0L525.4 306.0L523.3 302.0L527.8 301.8Z"/>
<path d="M536.5 306.5L538.9 310.3L543.4 310.5L541.3 314.5L543.4 318.5L538.9 318.7L536.5 322.5L534.1 318.7L529.6 318.5L531.7 314.5L529.6 310.5L534.1 310.3Z"/>
<path d="M545.0 313.0L547.4 316.8L551.9 317.0L549.8 321.0L551.9 325.0L547.4 325.2L545.0 329.0L542.6 325.2L538.1 325.0L540.2 321.0L538.1 317.0L542.6 316.8Z"/>
<path d="M552.8 319.3L555.2 323.1L559.7 323.3L557.6 327.3L559.7 331.3L555.2 331.5L552.8 335.3L550.4 331.5L545.9 331.3L548.0 327.3L545.9 323.3L550.4 323.1Z"/>
<path d="M574.0 346.5L576.4 350.3L580.9 350.5L578.8 354.5L580.9 358.5L576.4 358.7L574.0 362.5L571.6 358.7L567.1 358.5L569.2 354.5L567.1 350.5L571.6 350.3Z"/>
<path d="M595.6 376.0L598.0 379.8L602.5 380.0L600.4 384.0L602.5 388.0L598.0 388.2L595.6 392.0L593.2 388.2L588.7 388.0L590.8 384.0L588.7 380.0L593.2 379.8Z"/>
<path d="M616.7 417.6L619.1 421.4L623.6 421.6L621.5 425.6L623.6 429.6L619.1 429.8L616.7 433.6L614.3 429.8L609.8 429.6L611.9 425.6L609.8 421.6L614.3 421.4Z"/>
<path d="M637.6 492.0L640.0 495.8L644.5 496.0L642.4 500.0L644.5 504.0L640.0 504.2L637.6 508.0L635.2 504.2L630.7 504.0L632.8 500.0L630.7 496.0L635.2 495.8Z"/>
<path d="M658.6 496.5L661.0 500.3L665.5 500.5L663.4 504.5L665.5 508.5L661.0 508.7L658.6 512.5L656.2 508.7L651.7 508.5L653.8 504.5L651.7 500.5L656.2 500.3Z"/>
<path d="M668.8 468.2L671.2 472.0L675.7 472.2L673.6 476.2L675.7 480.2L671.2 480.4L668.8 484.2L666.4 480.4L661.9 480.2L664.0 476.2L661.9 472.2L666.4 472.0Z"/>
<path d="M679.4 469.9L681.8 473.7L686.3 473.9L684.2 477.9L686.3 481.9L681.8 482.1L679.4 485.9L677.0 482.1L672.5 481.9L674.6 477.9L672.5 473.9L677.0 473.7Z"/>
<path d="M699.0 460.3L701.4 464.1L705.9 464.3L703.8 468.3L705.9 472.3L701.4 472.5L699.0 476.3L696.6 472.5L692.1 472.3L694.2 468.3L692.1 464.3L696.6 464.1Z"/>
<path d="M719.5 464.2L721.9 468.0L726.4 468.2L724.3 472.2L726.4 476.2L721.9 476.4L719.5 480.2L717.1 476.4L712.6 476.2L714.7 472.2L712.6 468.2L717.1 468.0Z"/>
<path d="M729.6 466.2L732.0 470.0L736.5 470.2L734.4 474.2L736.5 478.2L732.0 478.4L729.6 482.2L727.2 478.4L722.7 478.2L724.8 474.2L722.7 470.2L727.2 470.0Z"/>
<path d="M739.4 485.4L741.8 489.2L746.3 489.4L744.2 493.4L746.3 497.4L741.8 497.6L739.4 501.4L737.0 497.6L732.5 497.4L734.6 493.4L732.5 489.4L737.0 489.2Z"/>
<path d="M749.4 459.1L751.8 462.9L756.3 463.1L754.2 467.1L756.3 471.1L751.8 471.3L749.4 475.1L747.0 471.3L742.5 471.1L744.6 467.1L742.5 463.1L747.0 462.9Z"/>
<path d="M768.9 501.5L771.3 505.3L775.8 505.5L773.7 509.5L775.8 513.5L771.3 513.7L768.9 517.5L766.5 513.7L762.0 513.5L764.1 509.5L762.0 505.5L766.5 505.3Z"/>
<path d="M788.7 536.9L791.1 540.7L795.6 540.9L793.5 544.9L795.6 548.9L791.1 549.1L788.7 552.9L786.3 549.1L781.8 548.9L783.9 544.9L781.8 540.9L786.3 540.7Z"/>
</g>
<g stroke="#000" stroke-width="1.5" fill="none">
<rect x="109.0" y="52.5" width="698.2" height="518.1" stroke-width="1.6" stroke="#111"/>
<path d="M109.0 570.6 v-6.8 M109.0 52.5 v6.8M143.9 570.6 v-3.3 M143.9 52.5 v3.3M178.8 570.6 v-3.3 M178.8 52.5 v3.3M213.7 570.6 v-3.3 M213.7 52.5 v3.3M248.6 570.6 v-3.3 M248.6 52.5 v3.3M283.6 570.6 v-6.8 M283.6 52.5 v6.8M318.5 570.6 v-3.3 M318.5 52.5 v3.3M353.4 570.6 v-3.3 M353.4 52.5 v3.3M388.3 570.6 v-3.3 M388.3 52.5 v3.3M423.2 570.6 v-3.3 M423.2 52.5 v3.3M458.1 570.6 v-6.8 M458.1 52.5 v6.8M493.0 570.6 v-3.3 M493.0 52.5 v3.3M527.9 570.6 v-3.3 M527.9 52.5 v3.3M562.8 570.6 v-3.3 M562.8 52.5 v3.3M597.7 570.6 v-3.3 M597.7 52.5 v3.3M632.6 570.6 v-6.8 M632.6 52.5 v6.8M667.6 570.6 v-3.3 M667.6 52.5 v3.3M702.5 570.6 v-3.3 M702.5 52.5 v3.3M737.4 570.6 v-3.3 M737.4 52.5 v3.3M772.3 570.6 v-3.3 M772.3 52.5 v3.3M807.2 570.6 v-6.8 M807.2 52.5 v6.8M109.0 52.5 h6.8 M807.2 52.5 h-6.8M109.0 143.0 h3.3 M807.2 143.0 h-3.3M109.0 120.2 h3.3 M807.2 120.2 h-3.3M109.0 104.0 h3.3 M807.2 104.0 h-3.3M109.0 91.5 h3.3 M807.2 91.5 h-3.3M109.0 81.2 h3.3 M807.2 81.2 h-3.3M109.0 72.6 h3.3 M807.2 72.6 h-3.3M109.0 65.1 h3.3 M807.2 65.1 h-3.3M109.0 58.4 h3.3 M807.2 58.4 h-3.3M109.0 182.0 h6.8 M807.2 182.0 h-6.8M109.0 272.6 h3.3 M807.2 272.6 h-3.3M109.0 249.8 h3.3 M807.2 249.8 h-3.3M109.0 233.6 h3.3 M807.2 233.6 h-3.3M109.0 221.0 h3.3 M807.2 221.0 h-3.3M109.0 210.8 h3.3 M807.2 210.8 h-3.3M109.0 202.1 h3.3 M807.2 202.1 h-3.3M109.0 194.6 h3.3 M807.2 194.6 h-3.3M109.0 188.0 h3.3 M807.2 188.0 h-3.3M109.0 311.6 h6.8 M807.2 311.6 h-6.8M109.0 402.1 h3.3 M807.2 402.1 h-3.3M109.0 379.3 h3.3 M807.2 379.3 h-3.3M109.0 363.1 h3.3 M807.2 363.1 h-3.3M109.0 350.5 h3.3 M807.2 350.5 h-3.3M109.0 340.3 h3.3 M807.2 340.3 h-3.3M109.0 331.6 h3.3 M807.2 331.6 h-3.3M109.0 324.1 h3.3 M807.2 324.1 h-3.3M109.0 317.5 h3.3 M807.2 317.5 h-3.3M109.0 441.1 h6.8 M807.2 441.1 h-6.8M109.0 531.6 h3.3 M807.2 531.6 h-3.3M109.0 508.8 h3.3 M807.2 508.8 h-3.3M109.0 492.6 h3.3 M807.2 492.6 h-3.3M109.0 480.1 h3.3 M807.2 480.1 h-3.3M109.0 469.8 h3.3 M807.2 469.8 h-3.3M109.0 461.1 h3.3 M807.2 461.1 h-3.3M109.0 453.6 h3.3 M807.2 453.6 h-3.3M109.0 447.0 h3.3 M807.2 447.0 h-3.3M109.0 570.6 h6.8 M807.2 570.6 h-6.8" stroke-width="1.0" stroke="#222"/>
</g>
<rect x="807.7" y="491.7" width="1.5" height="2.1" fill="#f00"/>
<g font-family="'Liberation Serif', serif" fill="#000">
<text x="109.0" y="598.8" font-size="22" text-anchor="middle">0</text>
<text x="283.6" y="598.8" font-size="22" text-anchor="middle">1</text>
<text x="458.1" y="598.8" font-size="22" text-anchor="middle">2</text>
<text x="632.7" y="598.8" font-size="22" text-anchor="middle">3</text>
<text x="807.2" y="598.8" font-size="22" text-anchor="middle">4</text>
<text x="68.0" y="62.3" font-size="22">10</text>
<text x="88.9" y="51.1" font-size="15">0</text>
<text x="62.2" y="191.8" font-size="22">10</text>
<text x="83.2" y="180.6" font-size="15">-1</text>
<text x="62.2" y="321.4" font-size="22">10</text>
<text x="83.2" y="310.2" font-size="15">-2</text>
<text x="62.2" y="450.9" font-size="22">10</text>
<text x="83.2" y="439.7" font-size="15">-3</text>
<text x="62.2" y="580.4" font-size="22">10</text>
<text x="83.2" y="569.2" font-size="15">-4</text>
<text x="422.3" y="631.5" font-size="22">q</text>
<text x="440.8" y="631.5" font-size="22" textLength="29.6" lengthAdjust="spacingAndGlyphs">(fm</text>
<text x="471.6" y="622.3" font-size="16">-1</text>
<text x="486.8" y="631.5" font-size="22">)</text>
<g transform="translate(42.2,341.6) rotate(-90)"><text x="0" y="0" font-size="23" textLength="17.5" lengthAdjust="spacingAndGlyphs">|F</text><text x="18.6" y="5" font-size="17">L</text><text x="29.4" y="0" font-size="23" textLength="30.5" lengthAdjust="spacingAndGlyphs">(q)|</text></g>
<text x="633" y="153.8" font-size="16.5">16</text>
<text x="650" y="165.5" font-size="22.5">O (0</text>
<text x="691.3" y="158.3" font-size="20.5">+</text>
<text x="703.5" y="165.5" font-size="22.5">,0)</text>
<text x="196.5" y="400" font-size="20.5" textLength="105.5" lengthAdjust="spacingAndGlyphs">AV18+UIX</text>
<text x="196.5" y="444.8" font-size="20.5">N</text>
<text x="211.2" y="436.3" font-size="14.5">2</text>
<text x="219.3" y="444.8" font-size="20.5" textLength="141" lengthAdjust="spacingAndGlyphs">LO E1 (1.0 fm)</text>
<text x="196.5" y="486.6" font-size="20.5">N</text>
<text x="211.2" y="478.1" font-size="14.5">2</text>
<text x="219.3" y="486.6" font-size="20.5" textLength="141" lengthAdjust="spacingAndGlyphs">LO E1 (1.2 fm)</text>
<text x="196.5" y="525.3" font-size="20.5" textLength="35" lengthAdjust="spacingAndGlyphs">Exp</text>
</g>
<path d="M150.8 393.7 H183.8 M150.8 390.2 V397.2 M183.8 390.2 V397.2" stroke="#000" stroke-width="2.2" fill="none"/>
<g fill="#000"><path d="M160.2 388.7 L174.2 388.7 L167.2 400.4 Z"/></g>
<path d="M150.8 435.2 H183.8" stroke="#00f" stroke-width="5.2"/>
<path d="M150.8 476.8 H183.8" stroke="#f00" stroke-width="5.2"/>
<path d="M150.8 518.8 H183.8 M150.8 515.3 V522.3 M183.8 515.3 V522.3" stroke="#008000" stroke-width="2.2" fill="none"/>
<g fill="#008000"><path d="M167.2 510.8L169.6 514.6L174.1 514.8L172.0 518.8L174.1 522.8L169.6 523.0L167.2 526.8L164.8 523.0L160.3 522.8L162.4 518.8L160.3 514.8L164.8 514.6Z"/></g>
</svg>
</body></html>
